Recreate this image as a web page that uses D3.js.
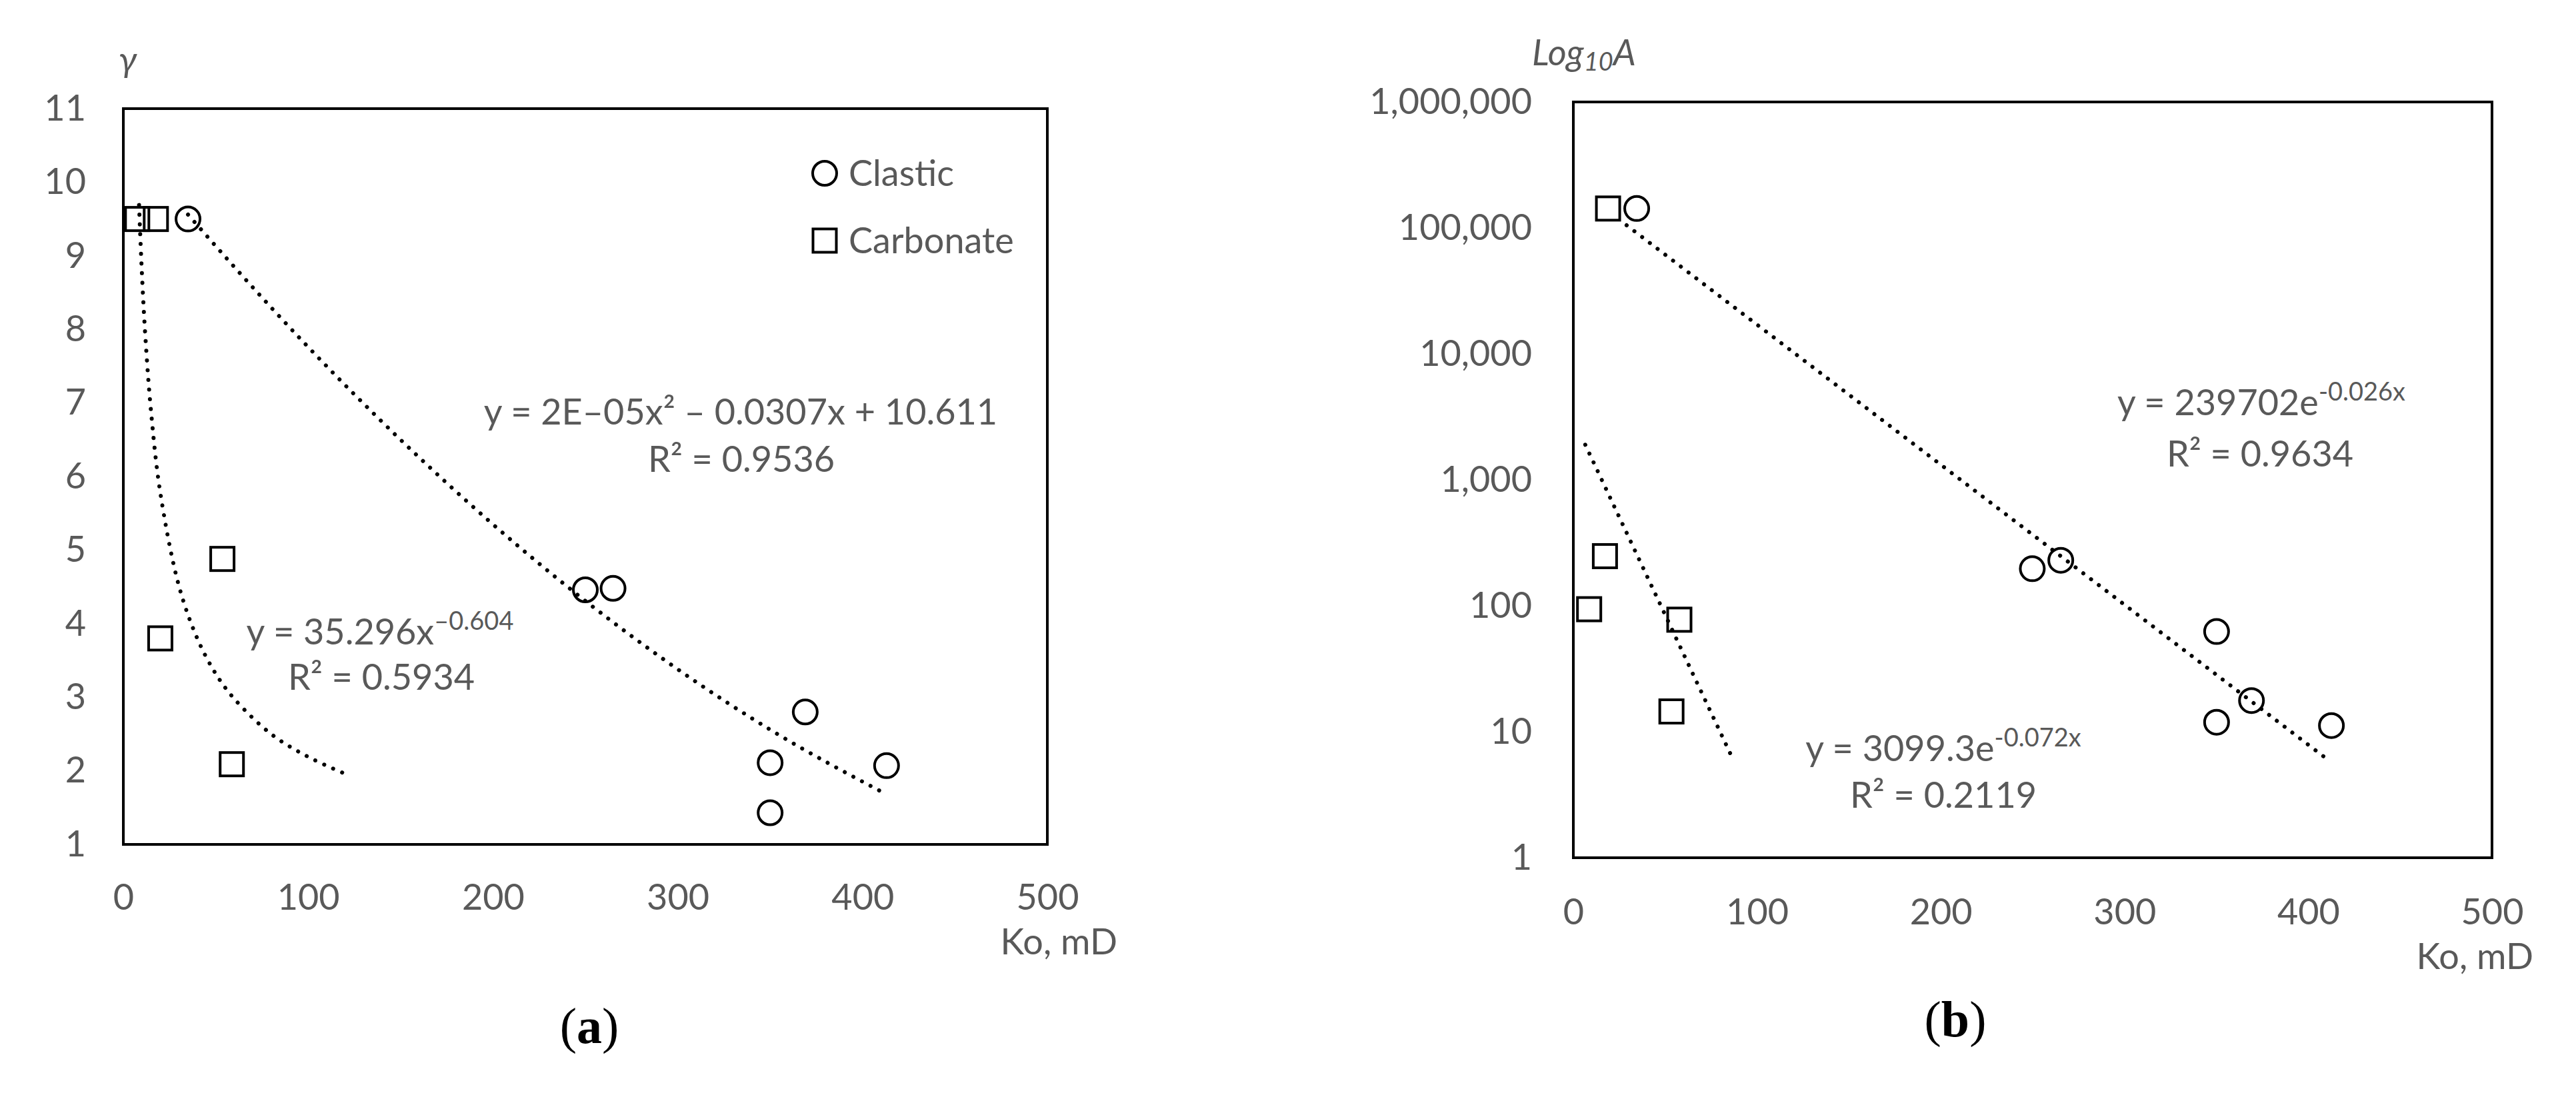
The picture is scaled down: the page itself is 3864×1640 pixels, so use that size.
<!DOCTYPE html>
<html>
<head>
<meta charset="utf-8">
<script src="https://cdn.jsdelivr.net/npm/d3@7"></script>
<style>
  html, body { margin: 0; padding: 0; background: #fff; }
  svg { display: block; }
  .tick text { font-family: Lato, "Open Sans", sans-serif; fill: #595959; }
</style>
</head>
<body>
<svg id="chart" width="3864" height="1640"></svg>
<script>
// ---------- Data ----------
// Panel (a): gamma vs Ko
const clasticKoA = [35, 250, 265, 350, 350, 369, 413];
const clasticGamma = [9.5, 4.46, 4.48, 2.11, 1.43, 2.8, 2.07];
const carbonateKoA = [7.5, 17.6, 53.6, 20, 58.7];
const carbonateGamma = [9.5, 9.5, 4.88, 3.8, 2.09];
// trend lines
const clasticTrendKoA = [35, 60, 100, 150, 200, 250, 300, 350, 413];
const clasticTrendGamma = [9.56, 8.85, 7.76, 6.50, 5.35, 4.31, 3.38, 2.56, 1.68];
const carbonateTrendKoA = [8.5, 10, 12, 15, 20, 30, 40, 50, 60, 80, 100, 120];
const carbonateTrendGamma = [9.69, 8.79, 7.87, 6.88, 5.78, 4.52, 3.80, 3.32, 2.98, 2.50, 2.19, 1.96];
const xTicksA = [0, 100, 200, 300, 400, 500];
const yTicksA = [1, 2, 3, 4, 5, 6, 7, 8, 9, 10, 11];

// Panel (b): Log10 A vs Ko
const clasticKoB = [34.5, 249.8, 265.3, 350.1, 369.1, 350.1, 412.6];
const clasticA = [142600, 197, 230, 62.5, 17.7, 11.9, 11.2];
const carbonateKoB = [18.9, 17.2, 8.6, 57.7, 53.4];
const carbonateA = [142600, 248, 94, 77.6, 14.5];
const clasticTrendKoB = [29, 412];
const clasticTrendA = [105000, 5.8];
const carbonateTrendKoB = [6.5, 87];
const carbonateTrendA = [1900, 6];
const xTicksB = [0, 100, 200, 300, 400, 500];
const yTicksB = [1, 10, 100, 1000, 10000, 100000, 1000000];

const legendLabels = ["Clastic", "Carbonate"];

// ---------- Drawing ----------
const svg = d3.select("#chart");
const FONT = "Lato, 'Open Sans', sans-serif";
const GREY = "#595959";
const FS = 54;

function frame(g, x0, x1, y0, y1) {
  g.append("rect").attr("x", x0).attr("y", y0).attr("width", x1 - x0).attr("height", y1 - y0)
    .attr("fill", "none").attr("stroke", "#000").attr("stroke-width", 4);
}
function circles(g, xs, ys, x, y) {
  g.selectAll(null).data(xs).enter().append("circle")
    .attr("cx", (d) => x(d)).attr("cy", (d, i) => y(ys[i])).attr("r", 18)
    .attr("fill", "none").attr("stroke", "#000").attr("stroke-width", 4);
}
function squares(g, xs, ys, x, y) {
  const s = 35;
  g.selectAll(null).data(xs).enter().append("rect")
    .attr("x", (d) => x(d) - s / 2).attr("y", (d, i) => y(ys[i]) - s / 2)
    .attr("width", s).attr("height", s)
    .attr("fill", "none").attr("stroke", "#000").attr("stroke-width", 4);
}
function trend(g, xs, ys, x, y, curve) {
  const pts = xs.map((d, i) => [x(d), y(ys[i])]);
  g.append("path").attr("d", d3.line().curve(curve)(pts))
    .attr("fill", "none").attr("stroke", "#000").attr("stroke-width", 6)
    .attr("stroke-linecap", "round").attr("stroke-dasharray", "0.1 14.5");
}
function styleAxis(ax) {
  ax.select(".domain").remove();
  ax.selectAll(".tick line").remove();
  ax.selectAll(".tick text").attr("font-size", FS).attr("fill", GREY).style("font-family", FONT);
}
function text(g, x, y, str, opts = {}) {
  return g.append("text").attr("x", x).attr("y", y)
    .attr("text-anchor", opts.anchor || "middle")
    .attr("font-family", opts.family || FONT).attr("font-size", opts.size || FS)
    .attr("fill", opts.fill || GREY)
    .attr("font-style", opts.italic ? "italic" : "normal")
    .text(str);
}

// ----- Panel (a) -----
const gA = svg.append("g");
const xA = d3.scaleLinear().domain([0, 500]).range([185, 1571]);
const yA = d3.scaleLinear().domain([1, 11]).range([1267, 163]);

styleAxis(gA.append("g").attr("transform", "translate(0,1267)")
  .call(d3.axisBottom(xA).tickValues(xTicksA).tickSize(0).tickPadding(60)));
styleAxis(gA.append("g").attr("transform", "translate(185,0)")
  .call(d3.axisLeft(yA).tickValues(yTicksA).tickSize(0).tickPadding(56)));

trend(gA, clasticTrendKoA, clasticTrendGamma, xA, yA, d3.curveMonotoneX);
trend(gA, carbonateTrendKoA, carbonateTrendGamma, xA, yA, d3.curveCatmullRom);
circles(gA, clasticKoA, clasticGamma, xA, yA);
squares(gA, carbonateKoA, carbonateGamma, xA, yA);
frame(gA, 185, 1571, 163, 1267);

// legend
gA.append("circle").attr("cx", 1237).attr("cy", 260).attr("r", 18)
  .attr("fill", "none").attr("stroke", "#000").attr("stroke-width", 4);
gA.append("rect").attr("x", 1237 - 17.5).attr("y", 361 - 17.5).attr("width", 35).attr("height", 35)
  .attr("fill", "none").attr("stroke", "#000").attr("stroke-width", 4);
text(gA, 1273, 279, legendLabels[0], { anchor: "start" });
text(gA, 1273, 380, legendLabels[1], { anchor: "start" });

// equations
text(gA, 1111, 637, "y = 2E–05x² – 0.0307x + 10.611");
text(gA, 1112, 708, "R² = 0.9536");
const eq2 = text(gA, 570, 967, "y = 35.296x");
eq2.append("tspan").attr("font-size", 38).attr("dy", -22).text("–0.604");
text(gA, 572, 1035, "R² = 0.5934");

// axis titles
text(gA, 178, 108, "γ", { anchor: "start", italic: true });
text(gA, 1676, 1432, "Ko, mD", { anchor: "end" });
const capA = text(gA, 884, 1565, "(", { family: "'Liberation Serif', 'DejaVu Serif', serif", size: 76, fill: "#000" });
capA.append("tspan").attr("font-weight", "bold").text("a");
capA.append("tspan").text(")");

// ----- Panel (b) -----
const gB = svg.append("g");
const xB = d3.scaleLinear().domain([0, 500]).range([2360, 3738]);
const yB = d3.scaleLog().domain([1, 1e6]).range([1287, 153]);

styleAxis(gB.append("g").attr("transform", "translate(0,1287)")
  .call(d3.axisBottom(xB).tickValues(xTicksB).tickSize(0).tickPadding(62)));
styleAxis(gB.append("g").attr("transform", "translate(2360,0)")
  .call(d3.axisLeft(yB).tickValues(yTicksB).tickFormat(d3.format(",")).tickSize(0).tickPadding(62)));

trend(gB, clasticTrendKoB, clasticTrendA, xB, yB, d3.curveLinear);
trend(gB, carbonateTrendKoB, carbonateTrendA, xB, yB, d3.curveLinear);
circles(gB, clasticKoB, clasticA, xB, yB);
squares(gB, carbonateKoB, carbonateA, xB, yB);
frame(gB, 2360, 3738, 153, 1287);

const eq3 = text(gB, 3392, 623, "y = 239702e");
eq3.append("tspan").attr("font-size", 38).attr("dy", -22).text("-0.026x");
text(gB, 3390, 700, "R² = 0.9634");
const eq4 = text(gB, 2915, 1142, "y = 3099.3e");
eq4.append("tspan").attr("font-size", 38).attr("dy", -22).text("-0.072x");
text(gB, 2915, 1212, "R² = 0.2119");

const lg = text(gB, 2298, 98, "Log", { anchor: "start", italic: true });
lg.append("tspan").attr("font-size", 38).attr("dy", 8).text("10");
lg.append("tspan").attr("dy", -8).text("A");
text(gB, 3800, 1454, "Ko, mD", { anchor: "end" });
const capB = text(gB, 2933, 1555, "(", { family: "'Liberation Serif', 'DejaVu Serif', serif", size: 76, fill: "#000" });
capB.append("tspan").attr("font-weight", "bold").text("b");
capB.append("tspan").text(")");
</script>
</body>
</html>
